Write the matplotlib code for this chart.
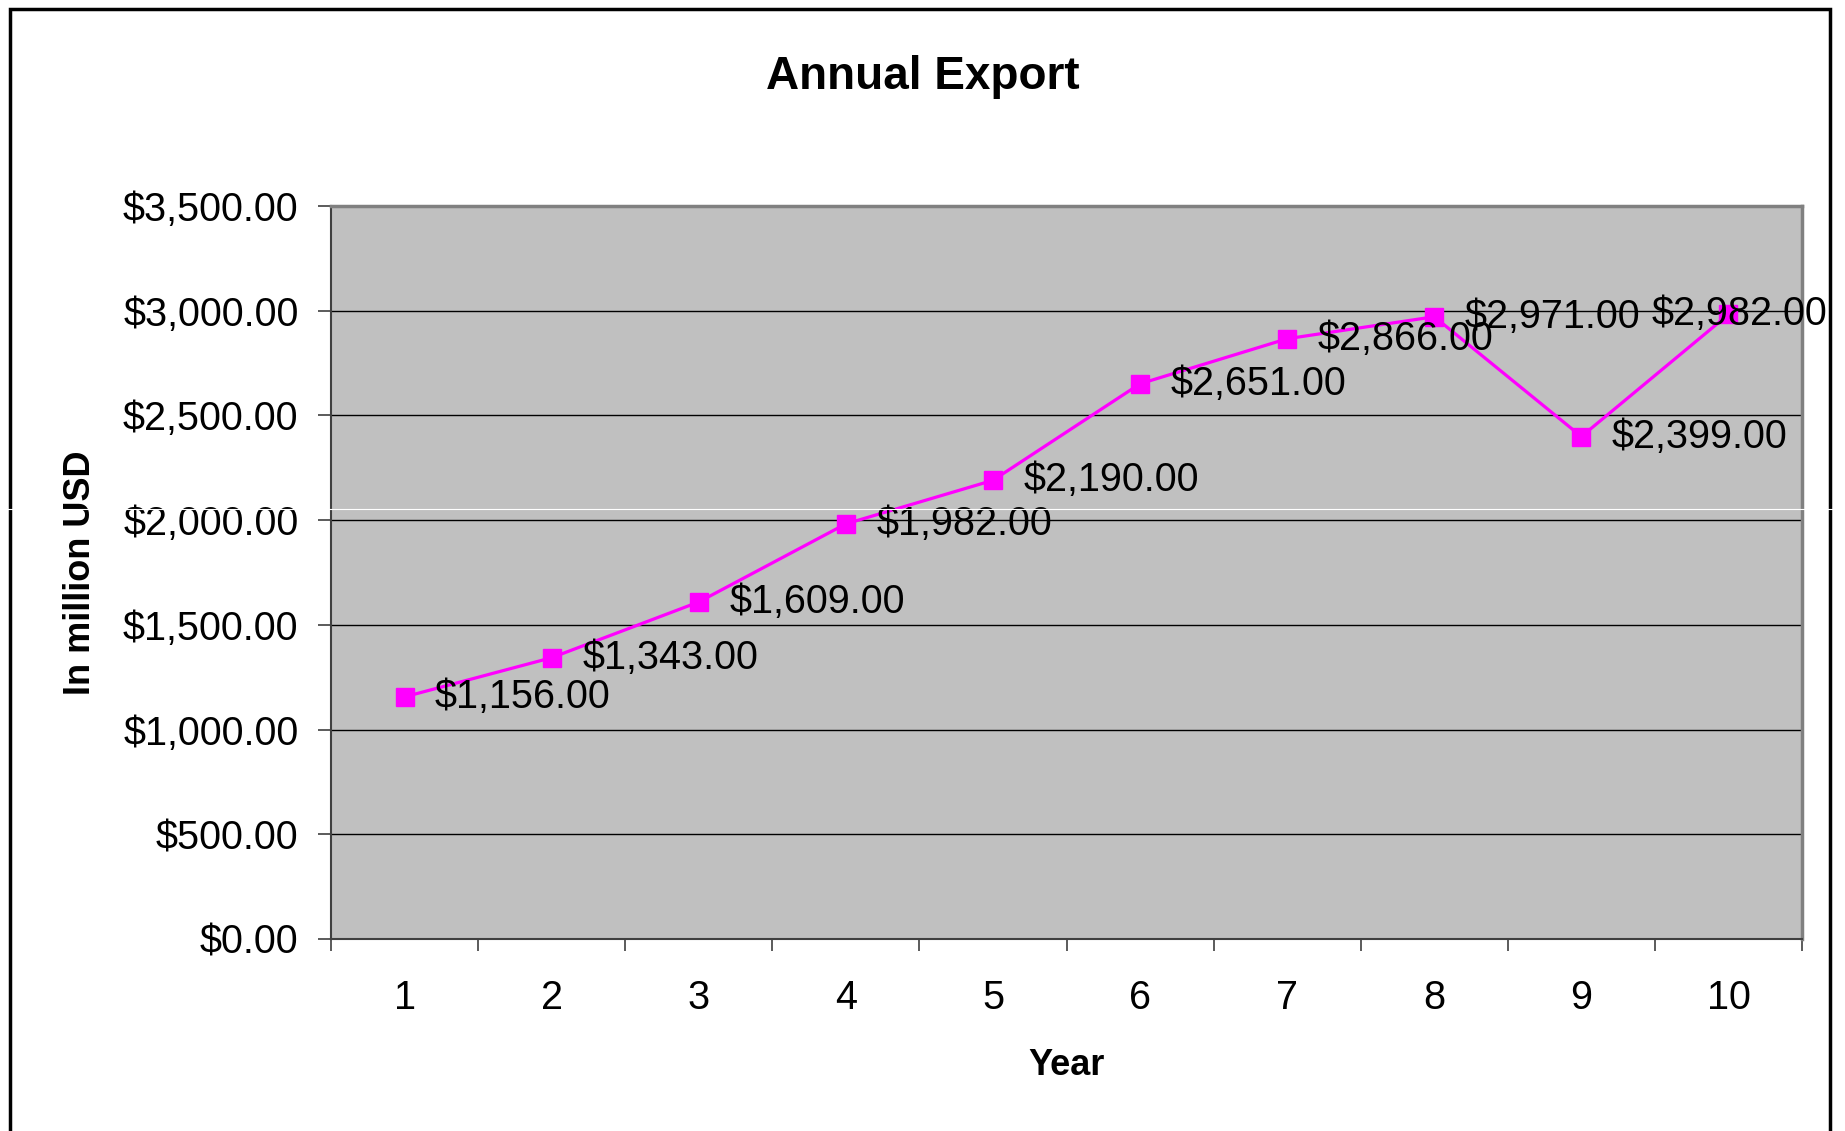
#!/usr/bin/env python3

import matplotlib.pyplot as plt
from matplotlib.patches import Rectangle
from matplotlib.lines import Line2D
import numpy as np

plt.rcParams['font.family'] = ['Liberation Sans', 'DejaVu Sans']

# Chart data
years = [1, 2, 3, 4, 5, 6, 7, 8, 9, 10]
exports = [1156, 1343, 1609, 1982, 2190, 2651, 2866, 2971, 2399, 2982]
y_ticks = [0, 500, 1000, 1500, 2000, 2500, 3000, 3500]

fig = plt.figure(figsize=(18.45, 11.31), dpi=100)
ax = fig.add_axes([0.1794, 0.1698, 0.7973, 0.6481])

# Plot area
ax.set_facecolor('#C0C0C0')
ax.set_xlim(0.5, 10.5)
ax.set_ylim(0, 3500)
ax.set_yticks(y_ticks)
ax.set_yticklabels(['${:,.2f}'.format(v) for v in y_ticks])
ax.yaxis.grid(True, color='black', linewidth=1.0)
ax.set_axisbelow(True)

# Category axis: labels at centers, tick marks between categories
ax.set_xticks(years)
ax.set_xticklabels([str(y) for y in years])
ax.set_xticks(np.arange(0.5, 11, 1), minor=True)
ax.tick_params(axis='x', which='major', length=0, pad=29, labelsize=28.5)
ax.tick_params(axis='x', which='minor', length=8.6, width=1.2, color='#404040', direction='out')
ax.tick_params(axis='y', length=9.4, width=1.2, color='#404040', pad=14, labelsize=28.5)

for side in ['top', 'right']:
    ax.spines[side].set_color('#808080')
    ax.spines[side].set_linewidth(2.5)
for side in ['left', 'bottom']:
    ax.spines[side].set_color('#404040')
    ax.spines[side].set_linewidth(1.5)

# Series
ax.plot(years, exports, color='#FF00FF', linewidth=2.3, marker='s',
        markersize=13, markerfacecolor='#FF00FF', markeredgecolor='#FF00FF', zorder=3)

for i, (x, v) in enumerate(zip(years, exports)):
    if i == len(years) - 1:
        # last label is pulled back over the point so it stays inside the chart
        offset, ha = (7.6, 0), 'center'
    else:
        offset, ha = (22, 0), 'left'
    ax.annotate('${:,.2f}'.format(v), xy=(x, v), xytext=offset, textcoords='offset points',
                va='center', ha=ha, fontsize=28.5, color='black', zorder=5,
                annotation_clip=False)

ax.set_xlabel('Year', fontsize=26, fontweight='bold', labelpad=22)
ax.set_ylabel('In million USD', fontsize=26, fontweight='bold', labelpad=18)

fig.text(0.5, 1 - 77 / 1131, 'Annual Export', ha='center', va='center',
         fontsize=33, fontweight='bold')

# Outer chart border
fig.add_artist(Rectangle((10 / 1845, -0.05), 1820 / 1845, 1.05 - 9 / 1131,
                         transform=fig.transFigure, fill=False,
                         edgecolor='black', linewidth=2.5))

# Thin white scan line across the picture
fig.add_artist(Line2D([0, 1], [1 - 509 / 1131] * 2, transform=fig.transFigure,
                      color='white', linewidth=0.8, zorder=10))

fig.savefig('out.png', dpi=100)
